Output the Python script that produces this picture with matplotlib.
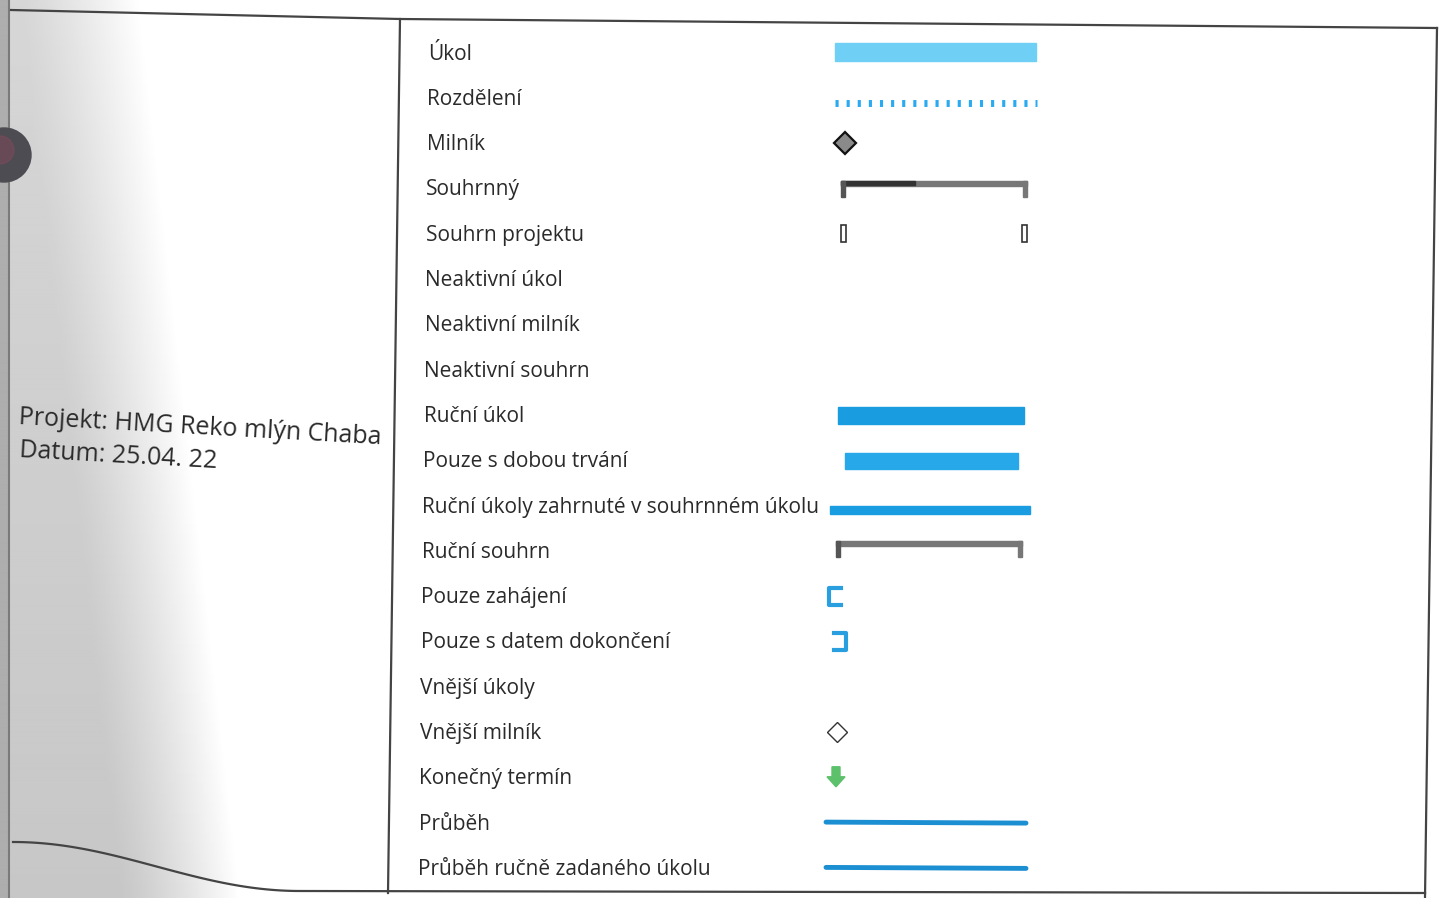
import matplotlib.pyplot as plt
import matplotlib.patches as mpatches
import numpy as np

# legend rows (label, symbol kind)
labels = [
    "Úkol", "Rozdělení", "Milník", "Souhrnný", "Souhrn projektu",
    "Neaktivní úkol", "Neaktivní milník", "Neaktivní souhrn", "Ruční úkol",
    "Pouze s dobou trvání", "Ruční úkoly zahrnuté v souhrnném úkolu",
    "Ruční souhrn", "Pouze zahájení", "Pouze s datem dokončení",
    "Vnější úkoly", "Vnější milník", "Konečný termín", "Průběh",
    "Průběh ručně zadaného úkolu",
]
kinds = [
    "task", "split", "milestone", "summary", "projsum",
    None, None, None, "manual",
    "duration", "manualsub",
    "mansum", "start", "finish",
    None, "extmile", "deadline", "progress",
    "progress",
]
project = "HMG Reko mlýn Chaba"
date = "25.04. 22"

W, H = 1444, 898
fig = plt.figure(figsize=(W / 100, H / 100), dpi=100)
ax = fig.add_axes([0, 0, 1, 1])
ax.set_xlim(0, W)
ax.set_ylim(H, 0)
ax.axis("off")

# scan shading on the left (wider towards the bottom)
gx, gy = np.meshgrid(np.linspace(0, 450, 450), np.linspace(0, H, 90))
centre = 80 + 100 * gy / H
base = 0.84 - 0.06 * gy / H
t = np.clip((gx - (centre - 60)) / 120, 0, 1)
shade = base + (1 - base) * t ** 1.2
shade[:, :9] = 0.68
ax.imshow(shade, cmap="gray", vmin=0, vmax=1, extent=[0, 450, H, 0],
          aspect="auto", zorder=0, interpolation="bilinear")
ax.plot([9, 9], [0, H], color="#7a7a7a", lw=1.5, zorder=1)
ax.add_patch(mpatches.Circle((4, 155), 27, color="#4c4c52", zorder=2))
ax.add_patch(mpatches.Circle((0, 150), 14, color="#7a4a5a", alpha=0.6, zorder=2))

# frame lines
line_kw = dict(color="#444444", lw=1.6, zorder=3)
ax.plot([11, 400, 1437], [10, 19, 28], **line_kw)
ax.plot([400, 388], [19, 893], **line_kw)
ax.plot([1437, 1425], [28, 898], **line_kw)
cx = np.linspace(13, 300, 60)
cy = 842 + 49 * (1 - np.cos(np.pi * (cx - 13) / 287)) / 2
ax.plot(list(cx) + [1425], list(cy) + [893], **line_kw)

# project info
title_kw = dict(fontsize=18, family="Open Sans", color="#2a2a2a",
                rotation=-3.2, rotation_mode="anchor", va="center", zorder=4)
ax.text(19, 418, "Projekt: " + project, **title_kw)
ax.text(19, 451, "Datum: " + date, **title_kw)

blue = "#1a9de0"
light = "#6fcff5"
gray = "#777777"


def bracket(x0, x1, y, dark_left):
    ax.add_patch(mpatches.Rectangle((x0, y - 3), x1 - x0, 5, color=gray, zorder=4))
    if dark_left:
        ax.add_patch(mpatches.Rectangle((x0, y - 3), (x1 - x0) * 0.4, 4,
                                        color="#333333", zorder=5))
    ax.add_patch(mpatches.Rectangle((x0, y - 3), 4, 16, color="#555555", zorder=5))
    ax.add_patch(mpatches.Rectangle((x1 - 4, y - 3), 4, 16, color=gray, zorder=5))


def draw_symbol(kind, y):
    if kind == "task":
        ax.add_patch(mpatches.Rectangle((835, y - 9), 201, 18, color=light, zorder=4))
    elif kind == "split":
        ax.plot([835, 1037], [y + 6, y + 6], color="#2aaaf0", lw=5,
                ls=(0, (0.45, 1.15)), zorder=4)
    elif kind == "milestone":
        ax.plot(845, y, marker="D", ms=11, mfc="#8a8a8a", mec="#111111",
                mew=1.6, zorder=4)
    elif kind == "summary":
        bracket(841, 1027, y - 4, True)
    elif kind == "projsum":
        for px in (843, 1024):
            ax.add_patch(mpatches.Rectangle((px - 2, y - 8), 5, 17, fill=False,
                                            ec="#333333", lw=1.2, zorder=4))
    elif kind == "manual":
        ax.add_patch(mpatches.Rectangle((838, y - 7), 186, 17, color=blue, zorder=4))
    elif kind == "duration":
        ax.add_patch(mpatches.Rectangle((845, y - 7), 173, 16, color="#27a8e8", zorder=4))
    elif kind == "manualsub":
        ax.add_patch(mpatches.Rectangle((830, y + 1), 200, 8, color=blue, zorder=4))
    elif kind == "mansum":
        bracket(836, 1022, y - 6, False)
    elif kind == "start":
        ax.plot([841, 829, 829, 841], [y - 8, y - 8, y + 9, y + 9],
                color="#2a9fe0", lw=3, zorder=4)
    elif kind == "finish":
        ax.plot([834, 846, 846, 834], [y - 8, y - 8, y + 9, y + 9],
                color="#2a9fe0", lw=3, zorder=4)
    elif kind == "extmile":
        ax.plot(837, y, marker="D", ms=10, mfc="white", mec="#333333",
                mew=1.0, zorder=4)
    elif kind == "deadline":
        ax.add_patch(mpatches.FancyArrow(836, y - 10, 0, 20, width=8,
                                         head_width=18, head_length=10,
                                         length_includes_head=True,
                                         color="#5cc16a", zorder=4))
    elif kind == "progress":
        ax.plot([826, 1026], [y, y + 1], color="#1b8fd2", lw=3.5,
                solid_capstyle="round", zorder=4)


for i, (label, kind) in enumerate(zip(labels, kinds)):
    y = 52 + i * 45.3
    ax.text(428 - i * 0.55, y + 2, label, fontsize=15, family="Open Sans",
            color="#2a2a2a", va="center", zorder=4)
    if kind:
        draw_symbol(kind, y)

fig.savefig("out.png", dpi=100)
